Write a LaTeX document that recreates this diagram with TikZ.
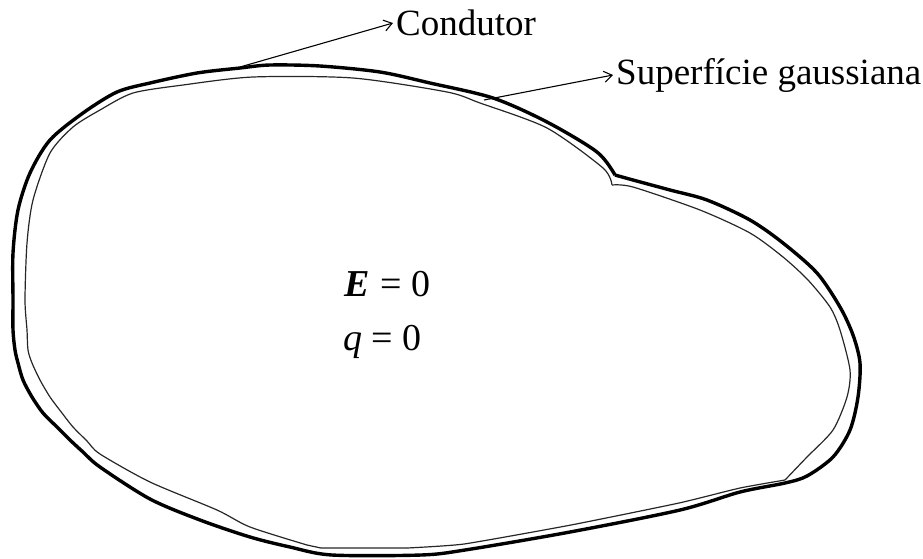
\documentclass[tikz,border=0pt]{standalone}
\usepackage{fontspec}
\setmainfont{Liberation Serif}
\usetikzlibrary{arrows.meta}
\tikzset{
  conductor/.style={line width=3.4pt, line join=round, black},
  gauss/.style={line width=1.2pt, line join=round, black!85},
  pointer/.style={line width=1.1pt, -{Straight Barb[length=8pt,width=11pt,line width=1.1pt]}},
  label/.style={font=\fontsize{37}{42}\selectfont, inner sep=3pt},
  mathlabel/.style={font=\fontsize{38}{42}\selectfont, inner sep=0pt, anchor=base west},
}
\begin{document}
\begin{tikzpicture}[x=1pt,y=-1pt]
\useasboundingbox (0,0) rectangle (923,558);
% conductor (thick outline)
\draw[conductor] plot[smooth, tension=0.5] coordinates {
 (615,175) (633,180) (670,190) (707,200) (750,220) (783,243) (817,273) (840,307)
 (853,335) (860,363) (858,397) (850,430) (833,457) (807,476) (785,483) (740,492)
 (680,510) (570,532) (465,550) (421,555) (332,555) (290,547) (250,537) (200,520)
 (150,499) (100,467) (83,452) (70,440) (57,427) (43,413) (32,397) (23,380)
 (18,363) (15,350) (13,330) (13,300) (13,253) (18,210) (30,173) (50,140) (83,113)
 (117,92) (150,83) (197,73) (240,68) (270,65) (320,66) (380,72) (430,83) (493,98)
 (547,122) (597,152) (615,175)};
% gaussian surface (thin outline)
\draw[gauss] plot[smooth, tension=0.45] coordinates {
 (612,185) (633,187) (700,210) (750,233) (783,257) (808,280) (830,307) (840,330)
 (850,370) (847,397) (833,430) (807,457) (785,480)};
\draw[gauss] plot[smooth, tension=0.3] coordinates {
 (785,480) (740,488) (679,503) (571,525) (464,544) (407,548)};
\draw[gauss] (407,548) -- (321,548) -- (307,545);
\draw[gauss] plot[smooth, tension=0.45] coordinates {
 (307,545) (250,527) (217,510) (150,482) (100,454) (87,441) (73,427) (62,413)
 (50,397) (40,380) (32,363) (28,350) (27,330) (25,300) (27,243) (33,200)
 (50,153) (73,127) (100,110) (133,93) (183,85) (253,77) (353,78) (447,92)
 (480,103) (547,128) (603,168) (612,185)};
% labels
\node[label, anchor=west] (cond) at (393,23) {Condutor};
\node[label, anchor=west] (gs) at (613,75) {Superfície gaussiana};
\coordinate (cpt) at (240,67);
\coordinate (gpt) at (484,100);
\draw[pointer] (cpt) -- (cond.west);
\draw[pointer] (gpt) -- (gs.west);
\node[mathlabel] (efield) at (344,296) {{\bfseries\itshape E}\hspace{11pt}=\hspace{10pt}0};
\node[mathlabel] (charge) at (343,350) {{\itshape q}\hspace{9pt}=\hspace{10pt}0};
\end{tikzpicture}
\end{document}
